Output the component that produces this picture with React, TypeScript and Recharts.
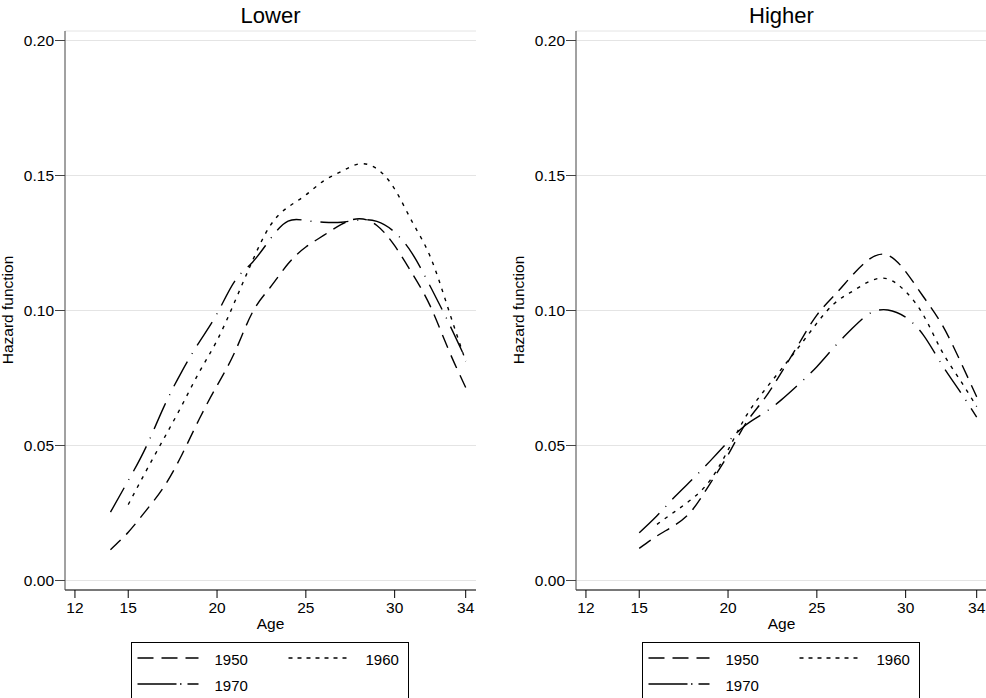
import React from 'react';
import {LineChart, Line, XAxis, YAxis, CartesianGrid} from 'recharts';

// ages and hazard values
const lowerAges = [14, 15, 16, 17, 18, 19, 20, 21, 22, 23, 24, 25, 26, 27, 28, 29, 30, 31, 32, 33, 34];
const lower1950 = [0.0114, 0.0179, 0.0259, 0.0346, 0.0463, 0.0598, 0.0722, 0.0846, 0.0994, 0.1086, 0.1173, 0.1235, 0.1278, 0.1319, 0.134, 0.1315, 0.124, 0.1136, 0.1017, 0.086, 0.0715];
const lower1960 = [null, 0.0281, 0.0405, 0.0525, 0.0646, 0.0772, 0.0889, 0.1033, 0.1185, 0.1315, 0.1383, 0.1428, 0.148, 0.1515, 0.1543, 0.1525, 0.145, 0.1327, 0.12, 0.101, 0.0812];
const lower1970 = [0.0253, 0.037, 0.0494, 0.0642, 0.0772, 0.0883, 0.0988, 0.1109, 0.1179, 0.1265, 0.1331, 0.1333, 0.1327, 0.1327, 0.1335, 0.133, 0.129, 0.121, 0.109, 0.096, 0.082];

const higherAges = [15, 16, 17, 18, 19, 20, 21, 22, 23, 24, 25, 26, 27, 28, 29, 30, 31, 32, 33, 34];
const higher1950 = [0.0119, 0.0165, 0.0205, 0.0262, 0.036, 0.0465, 0.0582, 0.0669, 0.077, 0.0878, 0.0983, 0.1057, 0.1131, 0.1192, 0.1205, 0.1144, 0.1051, 0.0953, 0.0823, 0.068];
const higher1960 = [null, 0.0208, 0.0255, 0.0304, 0.0372, 0.0483, 0.0607, 0.07, 0.0783, 0.0866, 0.0953, 0.1027, 0.1071, 0.1109, 0.1117, 0.107, 0.0983, 0.0854, 0.0749, 0.0644];
const higher1970 = [0.0177, 0.024, 0.031, 0.0375, 0.0443, 0.0514, 0.0576, 0.0619, 0.0669, 0.0728, 0.0792, 0.0866, 0.0934, 0.099, 0.1002, 0.0975, 0.0909, 0.0804, 0.0706, 0.0605];

const xTicks = [12, 15, 20, 25, 30, 34];
const yTicks = [0, 0.05, 0.1, 0.15, 0.2];
const cohorts = ['1950', '1960', '1970'];

const FONT = '"Liberation Sans", Arial, Helvetica, sans-serif';
const dashes: Record<string, string> = {'1950': '14 8', '1960': '3.5 6', '1970': '28 9 1 9'};
const legendDashes: Record<string, string> = {'1950': '16 8', '1960': '4 5', '1970': '39 3.5 1.5 6'};

interface PanelProps {
  title: string;
  ages: number[];
  s1950: (number | null)[];
  s1960: (number | null)[];
  s1970: (number | null)[];
  left: number;
}

const Legend2 = ({left}: {left: number}) => (
  <svg style={{position: 'absolute', left, top: 642, overflow: 'visible'}} width={280} height={60}>
    <rect x={0.5} y={0.5} width={277} height={70} fill="#fff" stroke="#000" strokeWidth={1} />
    <line x1={6.5} x2={67.5} y1={16} y2={16} stroke="#000" strokeWidth={1.4} strokeDasharray={legendDashes['1950']} />
    <text x={83.5} y={22.5} fontSize={15} fontFamily={FONT}>1950</text>
    <line x1={157.5} x2={216.5} y1={16} y2={16} stroke="#000" strokeWidth={1.4} strokeDasharray={legendDashes['1960']} />
    <text x={234.5} y={22.5} fontSize={15} fontFamily={FONT}>1960</text>
    <line x1={6.5} x2={67.5} y1={42} y2={42} stroke="#000" strokeWidth={1.4} strokeDasharray={legendDashes['1970']} />
    <text x={83.5} y={48.5} fontSize={15} fontFamily={FONT}>1970</text>
  </svg>
);

const Panel = ({title, ages, s1950, s1960, s1970, left}: PanelProps) => {
  const rows = ages.map((age, i) => ({age, c1950: s1950[i], c1960: s1960[i], c1970: s1970[i]}));
  const series = {'1950': 'c1950', '1960': 'c1960', '1970': 'c1970'} as Record<string, string>;
  return (
    <div style={{position: 'absolute', left, top: 0}}>
      <LineChart width={480} height={640} data={rows} margin={{top: 31, right: 4, bottom: 0, left: 0}} style={{fontFamily: FONT}}>
        <CartesianGrid vertical={false} stroke="#e4e4e4" strokeWidth={1} />
        <XAxis
          type="number"
          dataKey="age"
          domain={[11.44, 34.58]}
          ticks={xTicks}
          allowDataOverflow
          height={50}
          tickSize={8}
          tickMargin={4}
          stroke="#000"
          tick={{fontSize: 15.5, fill: '#000', fontFamily: FONT}}
        />
        <YAxis
          type="number"
          domain={[-0.00352, 0.20352]}
          ticks={yTicks}
          allowDataOverflow
          width={65}
          tickSize={10}
          tickMargin={1}
          stroke="#444"
          tickFormatter={(v: number) => v.toFixed(2)}
          tick={{fontSize: 15.5, fill: '#000', fontFamily: FONT}}
        />
        {cohorts.map(c => (
          <Line
            key={c}
            type="natural"
            dataKey={series[c]}
            stroke="#000"
            strokeWidth={1.4}
            strokeDasharray={dashes[c]}
            dot={false}
            activeDot={false}
            isAnimationActive={false}
          />
        ))}
        <text x={270.5} y={23.3} textAnchor="middle" fontSize={22} fontFamily={FONT} fill="#000">{title}</text>
        <text x={270.5} y={628.5} textAnchor="middle" fontSize={15.5} fontFamily={FONT} fill="#000">Age</text>
        <text x={13} y={310} transform="rotate(-90 13 310)" textAnchor="middle" fontSize={15.5} fontFamily={FONT} fill="#000">Hazard function</text>
      </LineChart>
    </div>
  );
};

export default function App() {
  return (
    <div style={{position: 'absolute', left: 0, top: 0, width: 986, height: 698, overflow: 'hidden', background: '#fff', fontFamily: FONT}}>
      <Panel title="Lower" ages={lowerAges} s1950={lower1950} s1960={lower1960} s1970={lower1970} left={0} />
      <Panel title="Higher" ages={higherAges} s1950={higher1950} s1960={higher1960} s1970={higher1970} left={511} />
      <Legend2 left={131} />
      <Legend2 left={642} />
    </div>
  );
}
